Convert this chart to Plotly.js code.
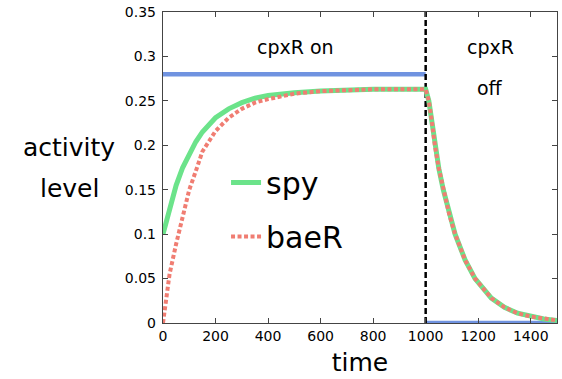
<!DOCTYPE html>
<html>
<head>
<meta charset="utf-8">
<script src="https://cdn.plot.ly/plotly-3.0.1.min.js"></script>
<style>html,body{margin:0;padding:0;background:#fff;}#chart{width:562px;height:379px;}</style>
</head>
<body>
<div id="chart"></div>
<script>
// time points (shared by spy and baeR)
const time = [0, 25, 50, 75, 100, 125, 150, 200, 250, 300, 350, 400, 500, 600, 800, 1000,
              1012, 1025, 1035, 1050, 1067, 1090, 1112, 1150, 1188, 1250, 1300, 1350, 1400, 1450, 1500];
const spy  = [0.100, 0.130, 0.155, 0.175, 0.191, 0.204, 0.215, 0.231, 0.241, 0.248, 0.253, 0.256, 0.259, 0.261, 0.263, 0.263,
              0.250, 0.224, 0.200, 0.174, 0.150, 0.122, 0.100, 0.071, 0.050, 0.028, 0.0176, 0.011, 0.0073, 0.0046, 0.0029];
const baeR = [0.000, 0.055, 0.089, 0.120, 0.150, 0.171, 0.193, 0.216, 0.231, 0.241, 0.248, 0.252, 0.258, 0.261, 0.263, 0.263,
              0.250, 0.224, 0.200, 0.174, 0.150, 0.122, 0.100, 0.071, 0.050, 0.028, 0.0176, 0.011, 0.0073, 0.0046, 0.0029];
// cpxR input signal (on, then off)
const cpxRTime = [0, 1000, null, 1000, 1500];
const cpxR     = [0.28, 0.28, null, 0, 0];
// switch time
const switchTime = [1000, 1000];
const switchY = [0, 0.35];
const xTicks = [0, 200, 400, 600, 800, 1000, 1200, 1400];
const yTicks = [0, 0.05, 0.1, 0.15, 0.2, 0.25, 0.3, 0.35];
const yTickText = ['0', '0.05', '0.1', '0.15', '0.2', '0.25', '0.3', '0.35'];

const font = 'DejaVu Sans, sans-serif';

const traces = [
  {x: cpxRTime, y: cpxR, mode: 'lines', line: {color: '#7093e0', width: 4.5}, showlegend: false, hoverinfo: 'skip'},
  {x: switchTime, y: switchY, mode: 'lines', line: {color: '#000', width: 2.5, dash: '6px,3px'}, showlegend: false, hoverinfo: 'skip'},
  {x: time, y: spy, name: 'spy', mode: 'lines', line: {color: '#6be38a', width: 5}, legendgroup: 'a'},
  {x: time, y: baeR, name: 'baeR', mode: 'lines', line: {color: '#f07d72', width: 4, dash: '4px,2.5px'}, legendgroup: 'b'}
];

const axisCommon = {
  showgrid: false, zeroline: false, showline: true, linecolor: '#444', linewidth: 1.2,
  mirror: 'ticks', ticks: 'inside', ticklen: 5, tickcolor: '#444',
  tickfont: {family: font, size: 14, color: '#000'}
};

const layout = {
  width: 562, height: 379,
  margin: {l: 163, r: 5, t: 12, b: 56},
  paper_bgcolor: '#fff', plot_bgcolor: '#fff',
  font: {family: font, color: '#000'},
  xaxis: Object.assign({}, axisCommon, {
    range: [0, 1500], tickvals: xTicks,
    title: {text: 'time', font: {family: font, size: 25}, standoff: 10}
  }),
  yaxis: Object.assign({}, axisCommon, {
    range: [0, 0.35], tickvals: yTicks, ticktext: yTickText, ticklabelstandoff: 3
  }),
  showlegend: true,
  legend: {
    x: 0.16, y: 0.535, xanchor: 'left', yanchor: 'top',
    font: {family: font, size: 30, color: '#000'},
    bgcolor: 'rgba(0,0,0,0)', traceorder: 'grouped', tracegroupgap: 12
  },
  annotations: [
    {xref: 'x', yref: 'y', x: 503, y: 0.311, text: 'cpxR on', showarrow: false, xanchor: 'center', font: {family: font, size: 19}},
    {xref: 'x', yref: 'y', x: 1246, y: 0.311, text: 'cpxR', showarrow: false, xanchor: 'center', font: {family: font, size: 19}},
    {xref: 'x', yref: 'y', x: 1246, y: 0.265, text: 'off', showarrow: false, xanchor: 'center', font: {family: font, size: 19}},
    {xref: 'paper', yref: 'paper', x: -0.238, y: 0.563, text: 'activity', showarrow: false, xanchor: 'center', yanchor: 'middle', font: {family: font, size: 25}},
    {xref: 'paper', yref: 'paper', x: -0.238, y: 0.434, text: 'level', showarrow: false, xanchor: 'center', yanchor: 'middle', font: {family: font, size: 25}}
  ]
};

Plotly.newPlot('chart', traces, layout, {displayModeBar: false, staticPlot: true});
</script>
</body>
</html>
